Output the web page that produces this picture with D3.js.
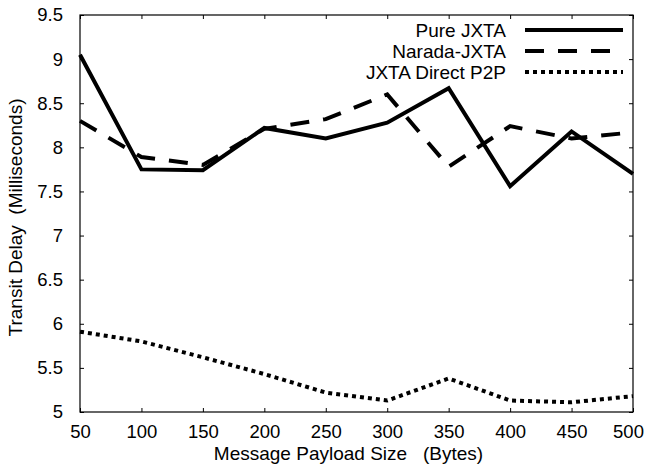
<!DOCTYPE html>
<html>
<head>
<meta charset="utf-8">
<script src="https://cdn.jsdelivr.net/npm/d3@7"></script>
<style>
  body { margin: 0; background: #fff; }
  text { font-family: "Liberation Sans", Arial, sans-serif; fill: #000; }
</style>
</head>
<body>
<div id="chart"></div>
<script>
// payload sizes (bytes)
const payloadSizes = [50, 100, 150, 200, 250, 300, 350, 400, 450, 500];

// transit delay (ms) per series
const pureJxta   = [9.05, 7.75, 7.74, 8.22, 8.10, 8.28, 8.67, 7.56, 8.18, 7.70];
const naradaJxta = [8.30, 7.89, 7.80, 8.21, 8.32, 8.60, 7.78, 8.24, 8.10, 8.17];
const directP2P  = [5.91, 5.80, 5.62, 5.43, 5.22, 5.13, 5.38, 5.13, 5.11, 5.18];

const seriesNames = ["Pure JXTA", "Narada-JXTA", "JXTA Direct P2P"];

const xTicks = [50, 100, 150, 200, 250, 300, 350, 400, 450, 500];
const yTicks = [5, 5.5, 6, 6.5, 7, 7.5, 8, 8.5, 9, 9.5];

const W = 645, H = 470;
const margin = {top: 15, right: 12, bottom: 58, left: 80};
const width = W - margin.left - margin.right,
      height = H - margin.top - margin.bottom;
const fontSize = "19px",
      tickFont = "18.5px";

const svg = d3.select("#chart").append("svg")
    .attr("width", W)
    .attr("height", H)
  .append("g")
    .attr("transform", "translate(" + margin.left + "," + margin.top + ")");

const x = d3.scaleLinear().domain([50, 500]).range([0, width]);
const y = d3.scaleLinear().domain([5, 9.5]).range([height, 0]);

// frame
svg.append("rect")
    .attr("width", width)
    .attr("height", height)
    .attr("fill", "none")
    .attr("stroke", "#000")
    .attr("stroke-width", 1.2);

// bottom axis with labels, ticks pointing inward
const xAxis = d3.axisBottom(x).tickValues(xTicks).tickSize(-4).tickPadding(13)
    .tickFormat(d3.format("d"));
svg.append("g")
    .attr("class", "x-axis")
    .attr("transform", "translate(0," + height + ")")
    .call(xAxis);

// top mirror ticks
svg.append("g")
    .attr("class", "x-axis-top")
    .call(d3.axisTop(x).tickValues(xTicks).tickSize(-4).tickFormat(""));

const yAxis = d3.axisLeft(y).tickValues(yTicks).tickSize(-4).tickPadding(17)
    .tickFormat(d => d3.format("")(d));
svg.append("g")
    .attr("class", "y-axis")
    .call(yAxis);

svg.append("g")
    .attr("class", "y-axis-right")
    .attr("transform", "translate(" + width + ",0)")
    .call(d3.axisRight(y).tickValues(yTicks).tickSize(-4).tickFormat(""));

svg.selectAll(".domain").remove();
svg.selectAll(".tick line").attr("stroke", "#000").attr("stroke-width", 1);
svg.selectAll(".x-axis text, .y-axis text")
    .style("font-family", "'Liberation Sans', Arial, sans-serif")
    .style("font-size", tickFont)
    .attr("fill", "#000");

// last x label sits a little left so it stays inside the page
svg.selectAll(".x-axis .tick text")
    .filter(d => d === 500)
    .attr("dx", -5);

// axis titles
svg.append("text")
    .attr("x", width / 2 - 8)
    .attr("y", height + 48)
    .attr("text-anchor", "middle")
    .style("font-size", fontSize)
    .attr("xml:space", "preserve")
    .text("Message Payload Size   (Bytes)");

svg.append("text")
    .attr("transform", "rotate(-90)")
    .attr("x", -height / 2 - 4)
    .attr("y", -58)
    .attr("text-anchor", "middle")
    .style("font-size", fontSize)
    .attr("xml:space", "preserve")
    .text("Transit Delay  (Milliseconds)");

// series lines
const series = [
    {name: seriesNames[0], values: pureJxta, dash: null},
    {name: seriesNames[1], values: naradaJxta, dash: "19,14"},
    {name: seriesNames[2], values: directP2P, dash: "4,4"}
];

const line = d3.line()
    .x((d, i) => x(payloadSizes[i]))
    .y(d => y(d));

svg.selectAll(".series")
    .data(series)
    .enter()
    .append("path")
    .attr("class", "series")
    .attr("d", d => line(d.values))
    .attr("fill", "none")
    .attr("stroke", "#000")
    .attr("stroke-width", 4)
    .attr("stroke-dasharray", d => d.dash);

// legend
const legend = svg.append("g")
    .attr("transform", "translate(" + (width - 108) + ",15)");

series.forEach((s, i) => {
    let row = legend.append("g").attr("transform", "translate(0," + (i * 21) + ")");
    row.append("text")
        .attr("x", -19)
        .attr("y", 7)
        .attr("text-anchor", "end")
        .style("font-size", fontSize)
        .text(s.name);
    row.append("line")
        .attr("x1", 0)
        .attr("x2", 98)
        .attr("y1", 0)
        .attr("y2", 0)
        .attr("stroke", "#000")
        .attr("stroke-width", 4)
        .attr("stroke-dasharray", s.dash);
});
</script>
</body>
</html>
